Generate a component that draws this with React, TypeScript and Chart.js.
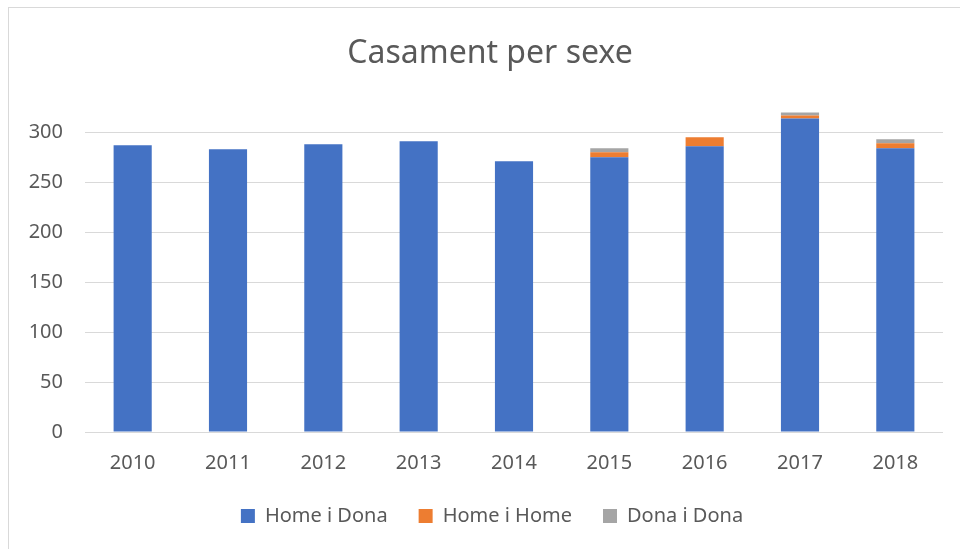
import React, { useEffect, useRef } from "react";
import { Chart, registerables } from "chart.js";

Chart.register(...registerables);

const years = ["2010", "2011", "2012", "2013", "2014", "2015", "2016", "2017", "2018"];
const homeIDona = [287, 283, 288, 291, 271, 275, 286, 314, 284];
const homeIHome = [0, 0, 0, 0, 0, 5, 9, 3, 5];
const donaIDona = [0, 0, 0, 0, 0, 4, 0, 3, 4];
const seriesNames = ["Home i Dona", "Home i Home", "Dona i Dona"];
const seriesColors = ["#4472C4", "#ED7D31", "#A5A5A5"];
const chartTitle = "Casament per sexe";

const FONT = "'Noto Sans', 'Open Sans', sans-serif";
const TEXT = "#595959";

const blockShift = {
  id: "blockShift",
  beforeDraw(chart: any) {
    if (chart.legend) chart.legend.left = 32;
    if (chart.titleBlock) chart.titleBlock.left = 28;
  },
};

export default function App() {
  const ref = useRef<HTMLCanvasElement | null>(null);

  useEffect(() => {
    if (!ref.current) return;
    const values = [homeIDona, homeIHome, donaIDona];
    const chart = new Chart(ref.current, {
      type: "bar",
      data: {
        labels: years,
        datasets: values.map((v, i) => ({
          label: seriesNames[i],
          data: v,
          backgroundColor: seriesColors[i],
          borderWidth: 0,
          categoryPercentage: 1,
          barPercentage: 0.4,
        })),
      },
      options: {
        animation: false,
        responsive: true,
        maintainAspectRatio: false,
        layout: { padding: { left: 0, right: 17, top: 0, bottom: 13 } },
        plugins: {
          title: {
            display: true,
            text: chartTitle,
            color: TEXT,
            font: { family: FONT, size: 32, weight: "normal" },
            padding: { top: 27, bottom: 29 },
          },
          legend: {
            position: "bottom",
            labels: {
              color: TEXT,
              font: { family: FONT, size: 20 },
              boxWidth: 14,
              boxHeight: 14,
              padding: 31,
            },
          },
          tooltip: { enabled: false },
        },
        scales: {
          x: {
            stacked: true,
            grid: { display: false, drawTicks: false },
            border: { display: false },
            ticks: { color: TEXT, font: { family: FONT, size: 20 }, padding: 19 },
            afterFit: (scale: any) => {
              scale.height = 43;
            },
          },
          y: {
            stacked: true,
            min: 0,
            max: 330,
            grid: { color: "#d9d9d9", lineWidth: 1, drawTicks: false },
            border: { display: false },
            ticks: { color: TEXT, font: { family: FONT, size: 20 }, padding: 22, stepSize: 50 },
            afterBuildTicks: (scale: any) => {
              scale.ticks = scale.ticks.filter((t: any) => t.value % 50 === 0);
            },
            afterFit: (scale: any) => {
              scale.width = 76;
            },
          },
        },
      },
      plugins: [blockShift],
    });
    return () => chart.destroy();
  }, []);

  return (
    <div
      style={{
        position: "fixed",
        left: 8,
        top: 7,
        right: 0,
        bottom: 0,
        boxSizing: "border-box",
        borderTop: "1px solid #d9d9d9",
        borderLeft: "1px solid #d9d9d9",
        background: "#fff",
      }}
    >
      <div style={{ position: "relative", width: "100%", height: "100%" }}>
        <canvas ref={ref} />
      </div>
    </div>
  );
}
